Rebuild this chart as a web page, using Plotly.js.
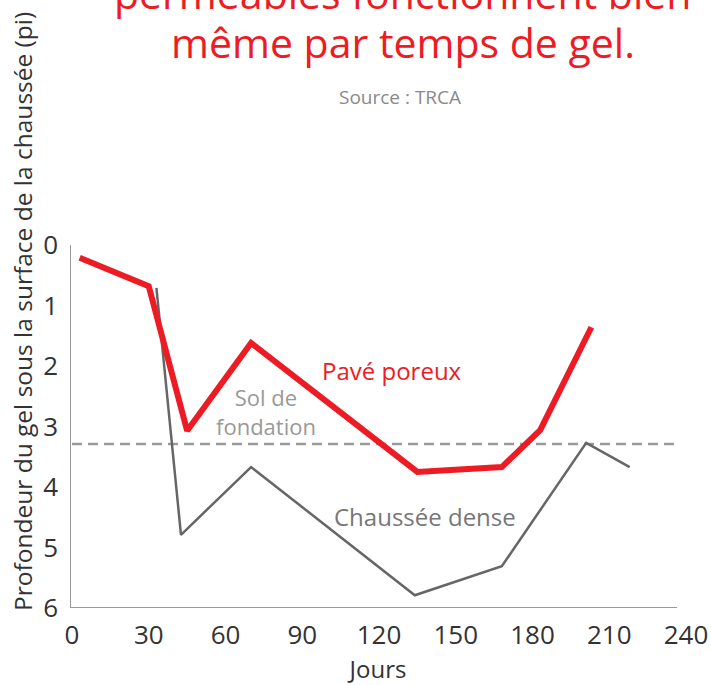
<!DOCTYPE html>
<html>
<head>
<meta charset="utf-8">
<script src="https://cdn.plot.ly/plotly-3.0.1.min.js"></script>
<style>html,body{margin:0;padding:0;background:#fff;}#chart{width:711px;height:685px;}</style>
</head>
<body>
<div id="chart"></div>
<script>
// Pavé poreux (porous pavement)
const poreuxJours = [3, 30, 45, 70, 135, 168, 183, 203];
const poreuxProf  = [0.21, 0.68, 3.07, 1.62, 3.75, 3.67, 3.06, 1.36];
// Chaussée dense (conventional pavement)
const denseJours = [33, 42.6, 70, 134, 168, 201, 218];
const denseProf  = [0.71, 4.79, 3.67, 5.79, 5.31, 3.27, 3.67];
// Sol de fondation (subgrade reference level)
const solJours = [0, 236.5];
const solProf  = [3.29, 3.29];
// Axis ticks
const xTicks = [0, 30, 60, 90, 120, 150, 180, 210, 240];
const yTicks = [0, 1, 2, 3, 4, 5, 6];

const red = '#ED1C24';
const font = 'Open Sans, sans-serif';

// plot area: top 245px, height 363px, left 70px, width 616px
const pyTop = 245, pyH = 363, pxL = 70, pxW = 616;
const py = p => 1 + (pyTop - p) / pyH;   // pixel row -> paper y
const px = p => (p - pxL) / pxW;          // pixel col -> paper x

const traces = [
  {x: solJours, y: solProf, mode: 'lines', line: {color: '#9a9a9a', width: 2.5, dash: '10px,6px'}, hoverinfo: 'skip'},
  {x: denseJours, y: denseProf, mode: 'lines', line: {color: '#666666', width: 2.5}, name: 'Chaussée dense'},
  {x: poreuxJours, y: poreuxProf, mode: 'lines', line: {color: red, width: 6}, name: 'Pavé poreux'}
];

const layout = {
  width: 711, height: 685,
  margin: {l: 70, r: 25, t: 245, b: 77},
  paper_bgcolor: '#fff', plot_bgcolor: '#fff',
  showlegend: false,
  font: {family: font, color: '#333'},
  xaxis: {
    range: [-0.78, 240], tickvals: xTicks, ticktext: xTicks.map(String),
    showgrid: false, zeroline: false, showline: false, ticks: '',
    tickfont: {family: font, size: 26, color: '#333'},
    ticklabelstandoff: 9,
    title: {text: 'Jours', font: {family: font, size: 24, color: '#333'}, standoff: 4}
  },
  yaxis: {
    range: [6, 0], tickvals: yTicks, ticktext: yTicks.map(String),
    showgrid: false, zeroline: false, showline: false, ticks: '',
    tickfont: {family: font, size: 26, color: '#333'},
    ticklabelstandoff: 11
  },
  shapes: [
    {type: 'line', xref: 'x', yref: 'paper', x0: -0.78, x1: -0.78, y0: 0, y1: 1, line: {color: '#999', width: 2}},
    {type: 'line', xref: 'x', yref: 'y', x0: -0.78, x1: 236.5, y0: 6, y1: 6, line: {color: '#999', width: 2}}
  ],
  annotations: [
    {text: 'Les pavés<br>perméables fonctionnent bien', xref: 'paper', yref: 'paper',
     x: px(402), y: py(23), xanchor: 'center', yanchor: 'bottom', align: 'center', showarrow: false,
     font: {family: font, size: 41, color: red}},
    {text: 'même par temps de gel.', xref: 'paper', yref: 'paper',
     x: px(403), y: py(72), xanchor: 'center', yanchor: 'bottom', align: 'center', showarrow: false,
     font: {family: font, size: 41, color: red}},
    {text: 'Profondeur du gel sous la surface de la chaussée (pi)', xref: 'paper', yref: 'paper',
     x: px(22), y: py(312), xanchor: 'center', yanchor: 'middle', textangle: -90, showarrow: false,
     font: {family: font, size: 24.5, color: '#333'}},
    {text: 'Source : TRCA', xref: 'paper', yref: 'paper', x: px(400), y: py(97), xanchor: 'center', yanchor: 'middle', showarrow: false, font: {family: font, size: 19, color: '#8a8a8a'}},
    {text: 'Pavé poreux', xref: 'x', yref: 'y', x: 125, y: 2.08, xanchor: 'center', yanchor: 'middle', showarrow: false, font: {family: font, size: 24, color: red}},
    {text: 'Sol de<br>fondation', xref: 'x', yref: 'y', x: 75.7, y: 2.75, xanchor: 'center', yanchor: 'middle', showarrow: false, font: {family: font, size: 22, color: '#999'}},
    {text: 'Chaussée dense', xref: 'x', yref: 'y', x: 138, y: 4.48, xanchor: 'center', yanchor: 'middle', showarrow: false, font: {family: font, size: 24, color: '#777'}}
  ]
};

Plotly.newPlot('chart', traces, layout, {displayModeBar: false, staticPlot: true});
</script>
</body>
</html>
